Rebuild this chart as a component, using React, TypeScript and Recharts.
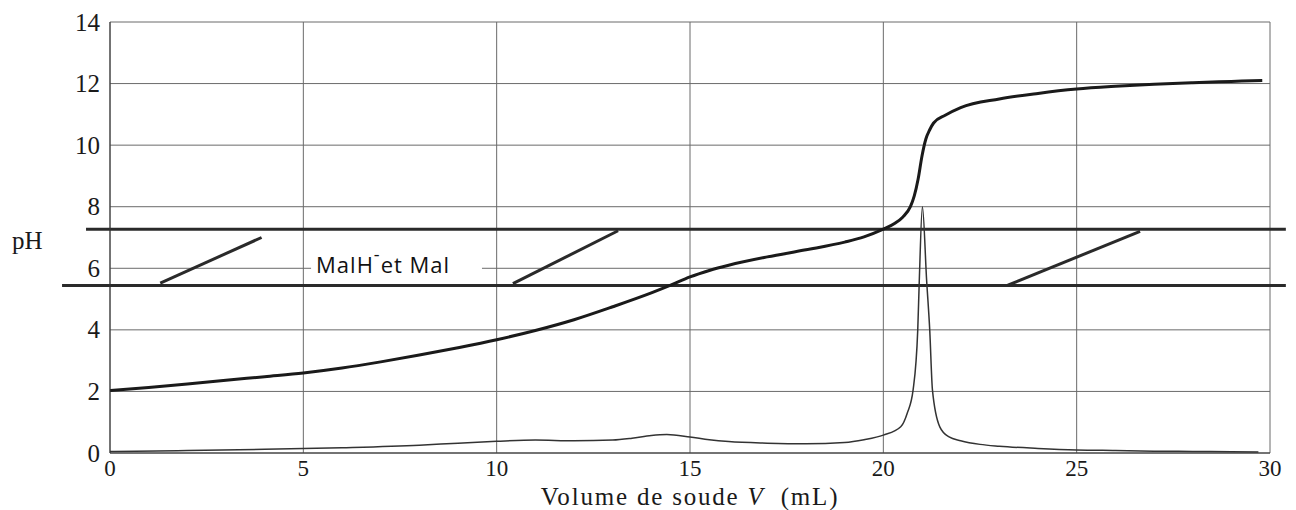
import React from 'react';
import { LineChart, Line, XAxis, YAxis, CartesianGrid, ReferenceLine, ReferenceArea, Label } from 'recharts';

// pH curve
const phVolume = [0, 1, 2, 3, 4, 5, 6, 7, 8, 9, 10, 11, 12, 13, 14, 14.5, 15, 15.5, 16, 17, 18, 19, 19.5, 20, 20.3, 20.5, 20.7, 20.8, 20.9, 21, 21.1, 21.2, 21.3, 21.6, 22, 23, 24, 25, 26, 27, 28, 29, 29.8];
const phValues = [2.03, 2.13, 2.24, 2.36, 2.48, 2.6, 2.76, 2.96, 3.18, 3.42, 3.68, 3.98, 4.33, 4.75, 5.2, 5.45, 5.72, 5.93, 6.1, 6.37, 6.6, 6.85, 7.02, 7.27, 7.46, 7.66, 8.0, 8.35, 8.9, 9.65, 10.2, 10.5, 10.72, 10.97, 11.22, 11.5, 11.68, 11.82, 11.91, 11.98, 12.03, 12.07, 12.1];

// derivative dpH/dV
const derivVolume = [0, 2, 4, 6, 8, 9, 10, 11, 12, 13, 13.5, 14, 14.4, 15, 15.5, 16, 17, 18, 19, 19.5, 20, 20.45, 20.62, 20.77, 20.89, 20.93, 21.01, 21.12, 21.2, 21.27, 21.46, 21.7, 22, 22.5, 23, 24, 25, 26, 27, 28, 29, 29.7];
const derivValues = [0.05, 0.08, 0.12, 0.17, 0.25, 0.32, 0.38, 0.42, 0.4, 0.42, 0.48, 0.57, 0.6, 0.52, 0.43, 0.37, 0.32, 0.3, 0.34, 0.43, 0.58, 0.85, 1.3, 2.05, 4.0, 5.6, 8.0, 5.6, 4.0, 2.05, 0.85, 0.52, 0.4, 0.28, 0.22, 0.15, 0.1, 0.08, 0.06, 0.05, 0.04, 0.03];

const xTicks = [0, 5, 10, 15, 20, 25, 30];
const yTicks = [0, 2, 4, 6, 8, 10, 12, 14];

// pKa bands and hatch strokes
const pkaUpper = 7.27;
const pkaLower = 5.44;
const hatches = [
  [{ x: 1.3, y: 5.52 }, { x: 3.92, y: 7.0 }],
  [{ x: 10.42, y: 5.5 }, { x: 13.14, y: 7.22 }],
  [{ x: 23.22, y: 5.45 }, { x: 26.64, y: 7.2 }],
];

const phData = phVolume.map((v, i) => ({ v, ph: phValues[i] }));
const derivData = derivVolume.map((v, i) => ({ v, d: derivValues[i] }));

const serif = 'Liberation Serif';
const ink = '#1a1a1a';

const XTick = (props: any) => {
  const { x, y, payload } = props;
  return (
    <text x={x} y={y} dy="0.72em" textAnchor="middle" fontFamily={serif} fontSize={23} fill={ink}>
      {payload.value}
    </text>
  );
};

const YTick = (props: any) => {
  const { x, y, payload } = props;
  return (
    <text x={x} y={y} dy="0.34em" textAnchor="end" fontFamily={serif} fontSize={25} fill={ink}>
      {payload.value}
    </text>
  );
};

const XTitle = (props: any) => {
  const { x, y, width, height } = props.viewBox;
  return (
    <text x={x + width / 2} y={y + height - 5} textAnchor="middle" fontFamily={serif} fontSize={25} fill={ink} letterSpacing={1.8}>
      {'Volume de soude '}
      <tspan fontStyle="italic">V</tspan>
      {'\u00a0\u00a0(mL)'}
    </text>
  );
};

const MalLabel = (props: any) => {
  const { x, y, height } = props.viewBox;
  return (
    <text x={x + 5} y={y + height / 2} dominantBaseline="central" fontFamily="Open Sans" fontSize={22} fill="#111" letterSpacing={1}>
      MalH
      <tspan dy={-10} fontSize={18}>-</tspan>
      <tspan dy={10}>et Mal</tspan>
    </text>
  );
};

export default function App() {
  return (
    <div style={{ position: 'absolute', left: 0, top: 0, width: 1296, height: 510, background: '#fff' }}>
      <LineChart width={1296} height={510} margin={{ top: 22, right: 26, left: 0, bottom: 0 }}>
        <CartesianGrid stroke="#6a6a6a" strokeWidth={1} />
        <XAxis
          type="number"
          dataKey="v"
          domain={[0, 30]}
          ticks={xTicks}
          allowDataOverflow
          height={57}
          tickSize={0}
          tickMargin={6}
          axisLine={{ stroke: '#333' }}
          tick={<XTick />}
        >
          <Label content={XTitle} />
        </XAxis>
        <YAxis
          type="number"
          domain={[0, 14]}
          ticks={yTicks}
          allowDataOverflow
          width={110}
          tickSize={0}
          tickMargin={10}
          axisLine={{ stroke: '#333' }}
          tick={<YTick />}
          label={{ value: 'pH', position: 'insideLeft', offset: 12, dy: 3, style: { fontFamily: serif, fontSize: 25, fill: ink } }}
        />
        <ReferenceArea x1={5.2} x2={9.62} y1={5.55} y2={6.75} fill="#fff" fillOpacity={1} stroke="none" ifOverflow="visible" label={MalLabel} />
        <ReferenceLine segment={[{ x: -0.62, y: pkaUpper }, { x: 30.41, y: pkaUpper }]} stroke="#2a2a2a" strokeWidth={3} ifOverflow="visible" />
        <ReferenceLine segment={[{ x: -1.24, y: pkaLower }, { x: 30.41, y: pkaLower }]} stroke="#2a2a2a" strokeWidth={3} ifOverflow="visible" />
        {hatches.map((seg, i) => (
          <ReferenceLine key={i} segment={seg} stroke="#2a2a2a" strokeWidth={3} ifOverflow="visible" />
        ))}
        <Line data={derivData} dataKey="d" type="monotone" stroke="#333" strokeWidth={1.5} dot={false} activeDot={false} isAnimationActive={false} />
        <Line data={phData} dataKey="ph" type="monotone" stroke={ink} strokeWidth={3} dot={false} activeDot={false} isAnimationActive={false} />
      </LineChart>
    </div>
  );
}
